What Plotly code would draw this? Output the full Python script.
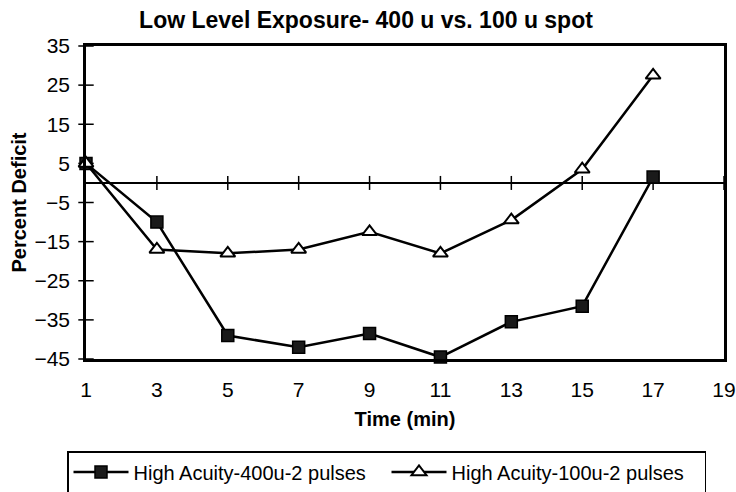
import plotly.graph_objects as go

time_min = [1, 3, 5, 7, 9, 11, 13, 15, 17]
acuity_400u = [5, -10, -39, -42, -38.5, -44.5, -35.5, -31.5, 1.5]
acuity_100u = [5, -17, -18, -17, -12.5, -18, -9.5, 3.5, 27.5]
x_ticks = [1, 3, 5, 7, 9, 11, 13, 15, 17, 19]
y_ticks = [35, 25, 15, 5, -5, -15, -25, -35, -45]

FONT = "Liberation Sans, Arial, sans-serif"

fig = go.Figure()

# tick marks sitting on the zero line (category axis crosses at 0)
fig.add_trace(go.Scatter(
    x=x_ticks[1:], y=[0] * (len(x_ticks) - 1), mode="markers",
    marker=dict(symbol="line-ns", size=10, line=dict(color="black", width=1.5)),
    showlegend=False, hoverinfo="skip", cliponaxis=False))

# crossing tick marks on the value axis
fig.add_trace(go.Scatter(
    x=[x_ticks[0]] * len(y_ticks), y=y_ticks, mode="markers",
    marker=dict(symbol="line-ew", size=11, line=dict(color="black", width=1.5)),
    showlegend=False, hoverinfo="skip", cliponaxis=False))

fig.add_trace(go.Scatter(
    x=time_min, y=acuity_400u, mode="lines+markers",
    name="High Acuity-400u-2 pulses",
    line=dict(color="black", width=2.5),
    marker=dict(symbol="square", size=12, color="#1a1a1a",
                line=dict(color="black", width=1.5)),
    cliponaxis=False))

fig.add_trace(go.Scatter(
    x=time_min, y=acuity_100u, mode="lines+markers",
    name="High Acuity-100u-2 pulses",
    line=dict(color="black", width=2.5),
    marker=dict(symbol="triangle-up", size=13, color="white",
                line=dict(color="black", width=2)),
    cliponaxis=False))

fig.update_layout(
    width=736, height=492,
    margin=dict(l=86, r=12, t=46, b=133, autoexpand=False),
    paper_bgcolor="white", plot_bgcolor="white",
    font=dict(family=FONT, color="black", size=21),
    title=dict(text="<b>Low Level Exposure- 400 u vs. 100 u spot</b>",
               x=366 / 736, xanchor="center", y=1 - 20 / 492, yanchor="middle",
               font=dict(size=23, family=FONT)),
    xaxis=dict(range=[1, 19], tickvals=x_ticks, ticks="", showgrid=False,
               zeroline=False, showline=True, linecolor="black", linewidth=2.5,
               mirror=True, tickfont=dict(size=21), ticklabelstandoff=10,
               title=dict(text="<b>Time (min)</b>", font=dict(size=20), standoff=13)),
    yaxis=dict(range=[-45, 35], tickvals=y_ticks, ticks="", showgrid=False,
               zeroline=True, zerolinecolor="black", zerolinewidth=1.5,
               showline=True, linecolor="black", linewidth=2.5, mirror=True,
               tickfont=dict(size=21), ticklabelstandoff=9,
               title=dict(text="<b>Percent Deficit</b>", font=dict(size=20), standoff=3)),
    legend=dict(orientation="h", x=(67 - 86) / 638, xanchor="left",
                y=(359 - 451) / 313, yanchor="top",
                bordercolor="black", borderwidth=1.5, bgcolor="white",
                font=dict(size=20), itemwidth=55, entrywidth=248,
                tracegroupgap=0),
    showlegend=True,
)

fig.write_html("out.html")
